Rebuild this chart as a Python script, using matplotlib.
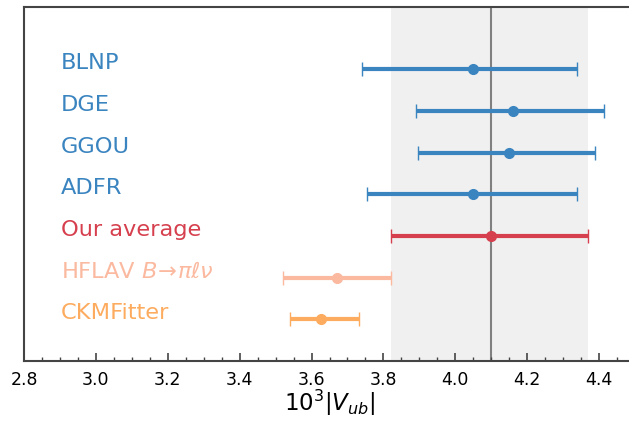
import numpy as np
import matplotlib.pyplot as plt
from matplotlib.ticker import MultipleLocator

plt.rcParams["font.family"] = "DejaVu Sans"
plt.rcParams["mathtext.fontset"] = "dejavusans"

labels = ["BLNP", "DGE", "GGOU", "ADFR", "Our average",
          r"HFLAV $B\!\to\!\pi\ell\nu$", "CKMFitter"]
centers = [4.05, 4.16, 4.15, 4.05, 4.10, 3.67, 3.625]
lows = [3.74, 3.89, 3.895, 3.755, 3.82, 3.52, 3.54]
highs = [4.34, 4.415, 4.39, 4.34, 4.37, 3.82, 3.733]
colors = ["#3a84c0", "#3a84c0", "#3a84c0", "#3a84c0",
          "#d6404e", "#fbb9a0", "#fdab5e"]

avg_value = 4.10
avg_band = (3.82, 4.37)

fig = plt.figure(figsize=(6.29, 4.21), dpi=100)
ax = fig.add_axes([24 / 629, 1 - 361 / 421, 611 / 629, 354 / 421])

ax.axvspan(*avg_band, color="#f0f0f0", zorder=0, lw=0)
ax.axvline(avg_value, color="#808080", lw=1.5, zorder=1)

n = len(labels)
for i, (lab, c, lo, hi, col) in enumerate(zip(labels, centers, lows, highs, colors)):
    y = n - i
    ax.errorbar([c], [y], xerr=[[c - lo], [hi - c]], fmt="o", color=col,
                ms=7, elinewidth=3, capsize=5, capthick=1, zorder=3)
    ax.text(2.903, y + 0.0, lab, color=col, fontsize=16.2, va="baseline")

ax.set_xlim(2.8, 4.5)
ax.set_ylim(0, 8.5)
ax.set_yticks([])
ax.xaxis.set_major_locator(MultipleLocator(0.2))
ax.xaxis.set_minor_locator(MultipleLocator(0.05))
ax.tick_params(axis="x", which="major", direction="in", length=6, width=1.2,
               labelsize=12.5, color="#444444", pad=7)
ax.tick_params(axis="x", which="minor", direction="in", length=3, width=1,
               color="#444444")
for s in ax.spines.values():
    s.set_color("#444444")
    s.set_linewidth(1.5)
ax.set_xlabel(r"$10^3|V_{ub}|$", fontsize=16.5, labelpad=-1)

fig.savefig("out.png", dpi=100)
